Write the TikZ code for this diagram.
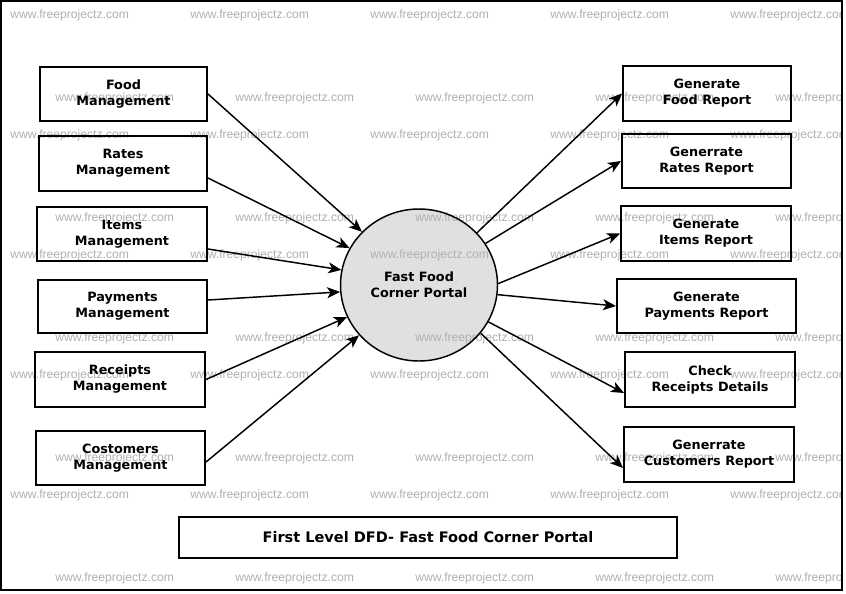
\documentclass[tikz,border=0pt]{standalone}
\usepackage{fontspec}
\setmainfont{DejaVu Sans}
\newfontfamily\wmfont{Liberation Sans}
\usetikzlibrary{arrows.meta,calc,shapes.geometric}
\begin{document}
\begin{tikzpicture}[x=0.75pt,y=-0.75pt,
  box/.style={draw=black,line width=1.5pt,inner sep=0pt,align=center,
    font=\fontsize{9.6}{12}\selectfont\bfseries,text=black},
  flow/.style={line width=1.1pt,-{Stealth[length=13*0.75pt,width=11*0.75pt,inset=3.5*0.75pt]}},
  wm/.style={anchor=west,inner sep=0pt,font=\wmfont\fontsize{9.1}{10}\selectfont,text=black!31}]
\useasboundingbox (0,0) rectangle (846,593);
\fill[white] (0,0) rectangle (846,593);
% process fill (under watermarks)
\fill[black!12] (419,285) ellipse [x radius=78.5, y radius=76];
% watermarks
\foreach \y in {15,135,255,375,495}{
  \foreach \x in {10,190,370,550,730}{
    \node[wm] (wa\x\y) at (\x,\y) {www.freeprojectz.com};}}
\foreach \y in {98,218,338,458,578}{
  \foreach \x in {55,235,415,595,775}{
    \node[wm] (wb\x\y) at (\x,\y) {www.freeprojectz.com};}}
\fill[white] (843,0) rectangle (846,593);
\fill[white] (0,591) rectangle (846,593);
% outer frame
\draw[line width=1.5pt] (1,1) rectangle (842,590);
% central process
\node[draw=black,line width=1.1pt,ellipse,minimum width=157*0.75pt,minimum height=152*0.75pt,inner sep=0pt] (c) at (419,285) {};
\node[box,draw=none] (ct) at (419,285) {Fast Food\\Corner Portal};
% left boxes
\node[box,minimum width=167*0.75pt,minimum height=54*0.75pt] (food) at (123.5,94) {Food\\Management};
\node[box,minimum width=168*0.75pt,minimum height=55*0.75pt] (rates) at (123,163.5) {Rates\\Management};
\node[box,minimum width=170*0.75pt,minimum height=54*0.75pt] (items) at (122,234) {Items\\Management};
\node[box,minimum width=169*0.75pt,minimum height=53*0.75pt] (pay) at (122.5,306.5) {Payments\\Management};
\node[box,minimum width=170*0.75pt,minimum height=55*0.75pt] (rec) at (120,379.5) {Receipts\\Management};
\node[box,minimum width=169*0.75pt,minimum height=54*0.75pt] (cust) at (120.5,458) {Costomers\\Management};
% right boxes
\node[box,minimum width=168*0.75pt,minimum height=55*0.75pt] (rfood) at (707,93.5) {Generate\\Food Report};
\node[box,minimum width=169*0.75pt,minimum height=54*0.75pt] (rrates) at (706.5,161) {Generrate\\Rates Report};
\node[box,minimum width=170*0.75pt,minimum height=55*0.75pt] (ritems) at (706,233.5) {Generate\\Items Report};
\node[box,minimum width=179*0.75pt,minimum height=54*0.75pt] (rpay) at (706.5,306) {Generate\\Payments Report};
\node[box,minimum width=170*0.75pt,minimum height=55*0.75pt] (rrec) at (710,379.5) {Check\\Receipts Details};
\node[box,minimum width=170*0.75pt,minimum height=55*0.75pt] (rcust) at (709,454.5) {Generrate\\Customers Report};
% title
\node[box,minimum width=498*0.75pt,minimum height=41*0.75pt,font=\fontsize{10.9}{12}\selectfont\bfseries] (title) at (428,537.5) {First Level DFD- Fast Food Corner Portal};
% flows in
\draw[flow] (food.east) -- (c.137.6);
\draw[flow] ($(rates.east)+(0,14.5)$) -- (c.152.5);
\draw[flow] ($(items.east)+(0,15)$) -- (c.169.2);
\draw[flow] ($(pay.east)+(0,-6.5)$) -- (c.185);
\draw[flow] (rec.east) -- (c.204.6);
\draw[flow] ($(cust.east)+(0,4)$) -- (c.220.4);
% flows out
\draw[flow] (c.42.9) -- (rfood.west);
\draw[flow] (c.32.1) -- (rrates.west);
\draw[flow] (c.1) -- (ritems.west);
\draw[flow] (c.-7.2) -- (rpay.west);
\draw[flow] (c.-28.5) -- ($(rrec.west)+(0,13.5)$);
\draw[flow] (c.-38.2) -- ($(rcust.west)+(0,13.5)$);
\end{tikzpicture}
\end{document}
